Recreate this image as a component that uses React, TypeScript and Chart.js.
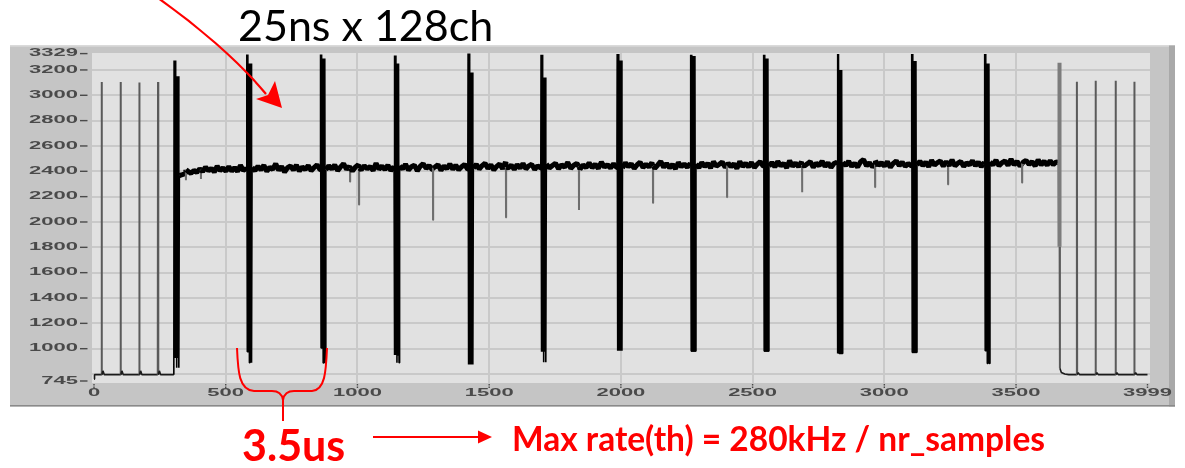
import React, { useEffect, useRef } from 'react';
import { Chart, registerables } from 'chart.js';

Chart.register(...registerables);

// ---------- axis ticks ----------
const X_TICKS = [0, 500, 1000, 1500, 2000, 2500, 3000, 3500, 3999];
const Y_TICKS = [745, 800, 1000, 1200, 1400, 1600, 1800, 2000, 2200, 2400, 2600, 2800, 3000, 3200, 3329];
const Y_LABELS = [745, 1000, 1200, 1400, 1600, 1800, 2000, 2200, 2400, 2600, 2800, 3000, 3200, 3329];
const X_MIN = -7.6;
const X_MAX = 4008.5;
const Y_MIN = 729.2;
const Y_MAX = 3333.7;

// ---------- lead-in (before the first trigger) ----------
const LEAD_START = 760;
const LEAD_BASE = 795;
const LEAD_BUMP = 825;
const leadSpikeX = [29, 101, 172, 243];
const leadSpikeY = [3105, 3105, 3100, 3105];

// ---------- trigger pulses ----------
const pulseX = [304, 580, 860, 1140, 1420, 1697, 1986, 2265, 2542, 2822, 3104, 3381];
const pulseTop = [3274, 3321, 3321, 3313, 3329, 3320, 3325, 3320, 3320, 3325, 3325, 3325];
const pulseTop2 = [3150, 3250, 3290, 3250, 3180, 3140, 3274, 3310, 3290, 3200, 3270, 3250];
const pulseBottom = [926, 976, 1005, 950, 876, 976, 984, 981, 981, 963, 971, 984];
const pulseBottom2 = [850, 889, 887, 889, 876, 892, 984, 981, 981, 963, 971, 884];

// ---------- pedestal band between pulses ----------
const bandLevel = [2412, 2420, 2425, 2428, 2433, 2438, 2442, 2446, 2450, 2453, 2456, 2460];
const bandNoise = [
  [-45, -38, -30, -12, -28, -5, -20, 8, -15, 22, -8, 12, -18, 30, -6, 15, -12, 25, -10, 18, -14, 35, -5, 10],
  [10, -15, 20, -8, 28, -20, 12, -5, 40, -12, 18, -25, 8, 22, -10, 30, -18, 14, -6, 25, -15, 10, 32, -8],
  [-12, 18, -6, 25, -20, 10, 35, -10, 15, -22, 8, 28, -14, 20, -5, 12, -18, 38, -8, 16, -12, 24, -20, 10],
  [15, -10, 28, -18, 8, 20, -25, 12, 32, -6, 18, -14, 6, 25, -20, 14, -8, 30, -12, 20, -16, 8, 26, -10],
  [-8, 22, -15, 12, 30, -10, 18, -22, 6, 25, -12, 40, -5, 15, -18, 20, -8, 28, -14, 10, 22, -20, 12, -6],
  [20, -12, 8, 26, -18, 14, -6, 32, -15, 10, 24, -22, 12, -8, 28, -10, 18, -16, 35, -5, 15, -12, 22, -8],
  [-15, 25, -5, 18, -20, 10, 30, -12, 14, -8, 26, -18, 8, 36, -10, 20, -14, 12, -22, 28, -6, 16, -10, 20],
  [12, -18, 24, -8, 16, -20, 30, -6, 10, 28, -14, 20, -10, 14, -24, 32, -8, 18, -12, 24, -16, 10, 30, -5],
  [-10, 20, -16, 28, -6, 12, -22, 34, -10, 16, -14, 24, -8, 10, 26, -18, 14, -6, 30, -12, 18, -20, 12, 22],
  [18, -8, 26, -14, 10, -20, 22, 40, -10, 14, -18, 28, -6, 16, -12, 24, -22, 10, 30, -8, 20, -14, 8, -10],
  [-6, 24, -12, 16, -20, 30, -8, 12, 26, -16, 20, -10, 34, -14, 8, 22, -18, 12, -6, 28, -12, 18, -20, 14],
  [14, -10, 28, -16, 8, 22, -14, 36, -8, 18, -20, 12, 26, -6, 16, -18, 30, -10, 20, -12, 24, -8, 14, 6],
];
const dipX = [349, 406, 972, 1006, 1287, 1564, 1841, 2122, 2403, 2688, 2965, 3242, 3523];
const dipY = [2330, 2340, 2318, 2136, 2016, 2035, 2095, 2150, 2195, 2235, 2275, 2295, 2310];

// ---------- tail (after the last pulse train) ----------
const TAIL_X = 3664;
const tailEdgeX = [3664.5, 3665.5, 3666.5, 3672, 3685];
const tailEdgeY = [3257, 1805, 845, 812, 800];
const TAIL_BASE = 795;
const tailSpikeX = [3731, 3802, 3878, 3949];
const tailSpikeY = [3107, 3115, 3115, 3107];
const LAST_X = 3999;

type P = { x: number; y: number };

function buildTrace(): P[] {
  const pts: P[] = [];
  pts.push({ x: 0, y: LEAD_START }, { x: 2, y: LEAD_BASE });
  leadSpikeX.forEach((s, i) => {
    pts.push(
      { x: s - 1, y: LEAD_BASE },
      { x: s, y: leadSpikeY[i] },
      { x: s + 1, y: LEAD_BASE },
      { x: s + 5, y: LEAD_BUMP },
      { x: s + 10, y: LEAD_BASE },
    );
  });
  pulseX.forEach((p, i) => {
    const prev = i === 0 ? LEAD_BASE : bandLevel[i - 1];
    pts.push({ x: p - 1, y: prev });
    const seq = [
      pulseTop[i], pulseBottom[i], pulseTop[i], pulseBottom[i], pulseTop2[i],
      pulseBottom2[i], pulseTop2[i], pulseBottom[i], pulseTop2[i], pulseBottom2[i],
    ];
    seq.forEach((v, k) => pts.push({ x: p + 2 * k, y: v }));
    const start = p + 2 * seq.length;
    const end = i < pulseX.length - 1 ? pulseX[i + 1] - 2 : TAIL_X;
    const noise = bandNoise[i];
    const step = (end - start) / (noise.length - 1);
    noise.forEach((n, k) => pts.push({ x: start + k * step, y: bandLevel[i] + n }));
  });
  dipX.forEach((d, i) => {
    let seg = 0;
    pulseX.forEach((p, k) => { if (p < d) seg = k; });
    const lvl = bandLevel[seg];
    pts.push({ x: d - 0.4, y: lvl }, { x: d, y: dipY[i] }, { x: d + 0.4, y: lvl });
  });
  tailEdgeX.forEach((x, i) => pts.push({ x, y: tailEdgeY[i] }));
  pts.push({ x: tailEdgeX[tailEdgeX.length - 1] + 15, y: TAIL_BASE });
  tailSpikeX.forEach((s, i) => {
    pts.push(
      { x: s - 1, y: TAIL_BASE },
      { x: s, y: tailSpikeY[i] },
      { x: s + 1, y: TAIL_BASE },
      { x: s + 5, y: LEAD_BUMP - 15 },
      { x: s + 10, y: TAIL_BASE },
    );
  });
  pts.push({ x: LAST_X, y: TAIL_BASE });
  pts.sort((a, b) => a.x - b.x);
  return pts;
}

type Style = [string, number];

function segStyle(c: any): Style {
  const x0 = c.p0.parsed.x, x1 = c.p1.parsed.x;
  const y0 = c.p0.parsed.y, y1 = c.p1.parsed.y;
  const lo = Math.min(y0, y1), hi = Math.max(y0, y1);
  if (x0 >= TAIL_X && x1 <= TAIL_X + 2 && lo > 1700) return ['#7c7c7c', 4];
  if (x1 <= pulseX[0] - 1 || x0 >= TAIL_X) return hi > 1200 ? ['#5a5a5a', 2] : ['#1a1a1a', 1.6];
  if (lo >= 2355 && hi <= 2600) return ['#000000', 5];
  if (lo >= 1900 && hi <= 2600) return ['#6e6e6e', 2];
  return ['#000000', 1.6];
}

const LABEL_STRETCH = 2.2;

function drawStretched(ctx: CanvasRenderingContext2D, t: string, x: number, y: number, align: CanvasTextAlign) {
  ctx.save();
  ctx.translate(x, y);
  ctx.scale(LABEL_STRETCH, 1);
  ctx.textAlign = align;
  ctx.textBaseline = 'middle';
  ctx.fillText(t, 0, 0);
  ctx.restore();
}

const framePlugin = {
  id: 'framePlugin',
  beforeDraw(chart: any) {
    const { ctx, chartArea } = chart;
    ctx.save();
    ctx.fillStyle = '#c5c5c5';
    ctx.fillRect(10, 45.5, 1165, 361);
    ctx.fillStyle = '#d3d3d3';
    ctx.fillRect(10, 45.5, 1165, 1.5);
    ctx.fillStyle = '#a9a9a9';
    ctx.fillRect(1169, 45.5, 6, 361);
    ctx.fillStyle = '#8a8a8a';
    ctx.fillRect(10, 405, 1165, 1.5);
    ctx.fillStyle = '#e1e1e1';
    ctx.fillRect(chartArea.left, chartArea.top, chartArea.right - chartArea.left, chartArea.bottom - chartArea.top);
    ctx.restore();
  },
  afterDraw(chart: any) {
    const { ctx, chartArea, scales } = chart;
    const x = scales.x, y = scales.y;
    ctx.save();
    ctx.fillStyle = '#4a4a4a';
    ctx.font = 'bold 10px "Liberation Sans", Arial, sans-serif';
    Y_LABELS.forEach((v) => {
      const py = y.getPixelForValue(v);
      ctx.fillRect(chartArea.left - 12, py - 0.7, 7.5, 1.4);
      drawStretched(ctx, String(v), chartArea.left - 14, py, 'right');
    });
    X_TICKS.forEach((v) => {
      const px = x.getPixelForValue(v);
      ctx.fillRect(px - 0.7, chartArea.bottom + 1, 1.4, 1.5);
      ctx.fillRect(px - 0.7, chartArea.bottom + 3.5, 1.4, 1.5);
      drawStretched(ctx, String(v), px, 393, 'center');
    });
    ctx.restore();
  },
};

const GRID = '#c9c9c9';
const NONE = 'rgba(0,0,0,0)';

export default function App() {
  const ref = useRef<HTMLCanvasElement | null>(null);

  useEffect(() => {
    if (!ref.current) return;
    const chart = new Chart(ref.current, {
      type: 'line',
      data: {
        datasets: [
          {
            data: buildTrace(),
            borderColor: '#000',
            borderWidth: 1.6,
            borderJoinStyle: 'bevel',
            pointRadius: 0,
            tension: 0,
            segment: {
              borderColor: (c: any) => segStyle(c)[0],
              borderWidth: (c: any) => segStyle(c)[1],
            },
          } as any,
        ],
      },
      options: {
        animation: false,
        responsive: false,
        devicePixelRatio: 1,
        layout: { padding: { left: 92, top: 53, right: 35, bottom: 85 } },
        plugins: { legend: { display: false }, tooltip: { enabled: false } },
        events: [],
        scales: {
          x: {
            type: 'linear',
            min: X_MIN,
            max: X_MAX,
            afterBuildTicks: (s: any) => { s.ticks = X_TICKS.map((v) => ({ value: v })); },
            afterFit: (s: any) => { s.height = 0; },
            ticks: { display: false },
            border: { display: false },
            grid: {
              drawTicks: false,
              lineWidth: 2,
              color: (c: any) => (c.tick && (c.tick.value === 0 || c.tick.value === 3999) ? NONE : GRID),
            },
          },
          y: {
            type: 'linear',
            min: Y_MIN,
            max: Y_MAX,
            afterBuildTicks: (s: any) => { s.ticks = Y_TICKS.map((v) => ({ value: v })); },
            afterFit: (s: any) => { s.width = 0; },
            ticks: { display: false },
            border: { display: false },
            grid: {
              drawTicks: false,
              lineWidth: 2,
              color: (c: any) => (c.tick && (c.tick.value === 745 || c.tick.value === 3329) ? NONE : GRID),
            },
          },
        },
      } as any,
      plugins: [framePlugin],
    });
    return () => chart.destroy();
  }, []);

  const red = '#ff0000';
  return (
    <div style={{ position: 'absolute', left: 0, top: 0, width: 1185, height: 468, background: '#fff', overflow: 'hidden' }}>
      <canvas ref={ref} width={1185} height={468} style={{ position: 'absolute', left: 0, top: 0 }} />
      <svg width={1185} height={468} style={{ position: 'absolute', left: 0, top: 0, pointerEvents: 'none' }}>
        <path d="M 158 -2 C 195 24, 238 60, 266 94" fill="none" stroke={red} strokeWidth={2.2} />
        <path d="M 282 108 L 275 81 L 268 95 L 256 99 Z" fill={red} />
        <path d="M 237 348 C 238 372, 239 390, 254 391 L 272 391 C 279 391, 282 394, 283 400 L 283 421"
          fill="none" stroke={red} strokeWidth={2} />
        <path d="M 327 348 C 326 372, 325 390, 312 391 L 294 391 C 287 391, 284 394, 283 400"
          fill="none" stroke={red} strokeWidth={2} />
        <line x1={373} y1={437} x2={480} y2={437} stroke={red} strokeWidth={2} />
        <path d="M 478 430.5 L 492 437 L 478 443.5 Z" fill={red} />
      </svg>
      <div style={{ position: 'absolute', left: 238, top: 3, fontFamily: 'Lato, sans-serif', fontSize: 43, lineHeight: 1, color: '#000', whiteSpace: 'nowrap' }}>
        25ns x 128ch
      </div>
      <div style={{ position: 'absolute', left: 242, top: 423, fontFamily: 'Lato, sans-serif', fontWeight: 700, fontSize: 43, lineHeight: 1, color: red, whiteSpace: 'nowrap' }}>
        3.5us
      </div>
      <div style={{ position: 'absolute', left: 512, top: 422, fontFamily: 'Lato, sans-serif', fontWeight: 700, fontSize: 33.5, lineHeight: 1, color: red, whiteSpace: 'nowrap' }}>
        Max rate(th) = 280kHz / nr_samples
      </div>
    </div>
  );
}
